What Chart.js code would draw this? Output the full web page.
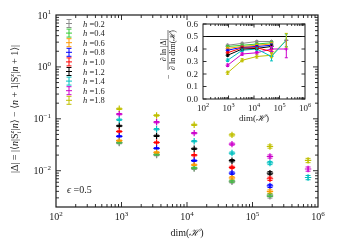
<!DOCTYPE html>
<html>
<head>
<meta charset="utf-8">
<script src="https://cdn.jsdelivr.net/npm/chart.js@4.4.0/dist/chart.umd.min.js"></script>
<style>
body { margin: 0; background: #fff; }
#wrap { position: relative; width: 338px; height: 250px; }
canvas { position: absolute; left: 0; top: 0; }
</style>
</head>
<body>
<div id="wrap">
  <canvas id="main" width="338" height="250"></canvas>
  <canvas id="inset" width="338" height="250"></canvas>
</div>
<script>
// Hilbert space dimensions (x values)
var dims = [924, 3432, 12870, 48620, 184756, 705432];
var hValues = ['0.2', '0.4', '0.6', '0.8', '1.0', '1.2', '1.4', '1.6', '1.8'];
var colors = ['#8c8c8c', '#33cc33', '#ff9900', '#0000ff', '#ff0000', '#000000', '#00c0c0', '#cc00cc', '#c0c000'];

// main panel: |Delta| per h
var delta02 = [0.034, 0.0200, 0.0110, 0.0061, 0.0032];
var delta04 = [0.035, 0.0206, 0.0113, 0.0063, 0.0034];
var delta06 = [0.038, 0.0225, 0.0130, 0.0073, 0.0040];
var delta08 = [0.046, 0.027, 0.0156, 0.0090, 0.0051];
var delta10 = [0.057, 0.035, 0.0199, 0.0116, 0.0070];
var delta12 = [0.073, 0.047, 0.0265, 0.0156, 0.0090];
var delta14 = [0.096, 0.063, 0.037, 0.0219, 0.0141, 0.0074];
var delta16 = [0.123, 0.086, 0.053, 0.0326, 0.0188, 0.0108];
var delta18 = [0.156, 0.116, 0.0767, 0.049, 0.0293, 0.0158];

var deltaErr02 = [0.0010, 0.0006, 0.0004, 0.0003, 0.00023];
var deltaErr04 = [0.0010, 0.0006, 0.0004, 0.0003, 0.00024];
var deltaErr06 = [0.0011, 0.0007, 0.0004, 0.0004, 0.00028];
var deltaErr08 = [0.0014, 0.0008, 0.0005, 0.0005, 0.00036];
var deltaErr10 = [0.0017, 0.0010, 0.0006, 0.0006, 0.0005];
var deltaErr12 = [0.0022, 0.0014, 0.0008, 0.0008, 0.0006];
var deltaErr14 = [0.0029, 0.0019, 0.0011, 0.0011, 0.0010, 0.0007];
var deltaErr16 = [0.0037, 0.0026, 0.0016, 0.0016, 0.0013, 0.0010];
var deltaErr18 = [0.0047, 0.0035, 0.0023, 0.0025, 0.0021, 0.0015];

// inset: -dln|Delta| / dln dim(H)
var slope02 = [0.43, 0.445, 0.46, 0.46];
var slope04 = [0.42, 0.43, 0.44, 0.45];
var slope06 = [0.405, 0.42, 0.43, 0.44];
var slope08 = [0.39, 0.415, 0.42, 0.43];
var slope10 = [0.37, 0.41, 0.41, 0.38];
var slope12 = [0.35, 0.40, 0.405, 0.42];
var slope14 = [0.31, 0.39, 0.40, 0.34, 0.47];
var slope16 = [0.27, 0.36, 0.37, 0.40, 0.40];
var slope18 = [0.21, 0.31, 0.34, 0.35, 0.47];

var slopeErr02 = [0.008, 0.008, 0.008, 0.008];
var slopeErr04 = [0.008, 0.008, 0.008, 0.008];
var slopeErr06 = [0.008, 0.008, 0.008, 0.010];
var slopeErr08 = [0.008, 0.008, 0.008, 0.010];
var slopeErr10 = [0.008, 0.008, 0.008, 0.012];
var slopeErr12 = [0.008, 0.008, 0.008, 0.012];
var slopeErr14 = [0.010, 0.010, 0.010, 0.035, 0.05];
var slopeErr16 = [0.010, 0.010, 0.010, 0.020, 0.07];
var slopeErr18 = [0.012, 0.012, 0.012, 0.020, 0.055];

var refLineX = [100, 1000000];
var refLineY = [0.5, 0.5];

var mainXExp = [2, 3, 4, 5, 6];
var mainYExp = [-2, -1, 0, 1];
var insetXExp = [2, 3, 4, 5, 6];
var insetYTicks = [0, 0.1, 0.2, 0.3, 0.4, 0.5, 0.6];

var deltas = [delta02, delta04, delta06, delta08, delta10, delta12, delta14, delta16, delta18];
var deltaErrs = [deltaErr02, deltaErr04, deltaErr06, deltaErr08, deltaErr10, deltaErr12, deltaErr14, deltaErr16, deltaErr18];
var slopes = [slope02, slope04, slope06, slope08, slope10, slope12, slope14, slope16, slope18];
var slopeErrs = [slopeErr02, slopeErr04, slopeErr06, slopeErr08, slopeErr10, slopeErr12, slopeErr14, slopeErr16, slopeErr18];

var SERIF = '"Liberation Serif", "DejaVu Serif", serif';
var INK = '#1a1a1a';

function pts(arr) {
    return arr.map(function (v, j) { return { x: dims[j], y: v }; });
}

// 10^n label with small raised exponent
function pow10(ctx, exp, x, y, align, size) {
    var e = String(exp).replace('-', '\u2212');
    ctx.font = size + 'px ' + SERIF;
    var wb = ctx.measureText('10').width;
    ctx.font = (size * 0.7) + 'px ' + SERIF;
    var we = ctx.measureText(e).width;
    var w = wb + we;
    var x0 = align === 'right' ? x - w : (align === 'center' ? x - w / 2 : x);
    ctx.textAlign = 'left';
    ctx.textBaseline = 'alphabetic';
    ctx.font = size + 'px ' + SERIF;
    ctx.fillText('10', x0, y);
    ctx.font = (size * 0.7) + 'px ' + SERIF;
    ctx.fillText(e, x0 + wb, y - size * 0.42);
}

// rich text: parts {t, it, sub, sup}
function richWidth(ctx, parts, size) {
    var w = 0;
    parts.forEach(function (p) {
        if (p.sub || p.sup) {
            ctx.font = 'italic ' + (size * 0.7) + 'px ' + SERIF;
            w += Math.max(ctx.measureText(p.sub || '').width, ctx.measureText(p.sup || '').width) + 0.5;
        } else {
            ctx.font = (p.it ? 'italic ' : '') + size + 'px ' + SERIF;
            w += ctx.measureText(p.t).width;
        }
    });
    return w;
}
function drawRich(ctx, parts, x, y, size) {
    var cx = x;
    ctx.textAlign = 'left';
    ctx.textBaseline = 'alphabetic';
    parts.forEach(function (p) {
        if (p.sub || p.sup) {
            ctx.font = 'italic ' + (size * 0.7) + 'px ' + SERIF;
            var w = Math.max(ctx.measureText(p.sub || '').width, ctx.measureText(p.sup || '').width);
            if (p.sub) ctx.fillText(p.sub, cx, y + size * 0.28);
            if (p.sup) ctx.fillText(p.sup, cx, y - size * 0.42);
            cx += w + 0.5;
        } else {
            ctx.font = (p.it ? 'italic ' : '') + size + 'px ' + SERIF;
            ctx.fillText(p.t, cx, y);
            cx += ctx.measureText(p.t).width;
        }
    });
}

// log minor values in the scale range
function logTicks(min, max) {
    var out = [];
    for (var e = Math.floor(Math.log10(min)); e <= Math.ceil(Math.log10(max)); e++) {
        for (var m = 1; m <= 9; m++) {
            var v = m * Math.pow(10, e);
            if (v > min * 1.0001 && v < max * 0.9999) out.push({ v: v, major: m === 1 });
        }
    }
    return out;
}

var errorBars = {
    id: 'errorBars',
    afterDatasetsDraw: function (chart, args, opts) {
        var ctx = chart.ctx, ys = chart.scales.y, cap = opts.cap || 2.5;
        ctx.save();
        ctx.beginPath();
        ctx.rect(chart.chartArea.left, chart.chartArea.top, chart.chartArea.width, chart.chartArea.height);
        ctx.clip();
        chart.data.datasets.forEach(function (ds, i) {
            if (!ds.errors) return;
            var meta = chart.getDatasetMeta(i);
            ctx.strokeStyle = ds.borderColor;
            ctx.lineWidth = 1;
            meta.data.forEach(function (pt, j) {
                var v = ds.data[j].y, e = ds.errors[j];
                var y1 = ys.getPixelForValue(v - e), y2 = ys.getPixelForValue(v + e);
                ctx.beginPath();
                ctx.moveTo(pt.x, y1); ctx.lineTo(pt.x, y2);
                ctx.moveTo(pt.x - cap, y1); ctx.lineTo(pt.x + cap, y1);
                ctx.moveTo(pt.x - cap, y2); ctx.lineTo(pt.x + cap, y2);
                ctx.stroke();
            });
        });
        ctx.restore();
    }
};

// box with inward ticks on all four sides
var frame = {
    id: 'frame',
    afterDraw: function (chart, args, o) {
        var ctx = chart.ctx, a = chart.chartArea, xs = chart.scales.x, ys = chart.scales.y;
        ctx.save();
        ctx.strokeStyle = INK;
        ctx.lineWidth = o.lw;
        ctx.strokeRect(a.left, a.top, a.right - a.left, a.bottom - a.top);
        ctx.lineWidth = 0.9;
        ctx.beginPath();
        logTicks(xs.min, xs.max).forEach(function (t) {
            var px = xs.getPixelForValue(t.v), L = t.major ? o.major : o.minor;
            ctx.moveTo(px, a.bottom); ctx.lineTo(px, a.bottom - L);
            ctx.moveTo(px, a.top); ctx.lineTo(px, a.top + L);
        });
        var yt = o.yLog ? logTicks(ys.min, ys.max) : o.yTicks.map(function (v) { return { v: v, major: true }; });
        yt.forEach(function (t) {
            var py = ys.getPixelForValue(t.v), L = t.major ? o.major : o.minor;
            ctx.moveTo(a.left, py); ctx.lineTo(a.left + L, py);
            ctx.moveTo(a.right, py); ctx.lineTo(a.right - L, py);
        });
        ctx.stroke();
        ctx.restore();
    }
};

var mainLabels = {
    id: 'mainLabels',
    afterDraw: function (chart) {
        var ctx = chart.ctx, a = chart.chartArea, xs = chart.scales.x, ys = chart.scales.y;
        ctx.save();
        ctx.fillStyle = INK;
        mainXExp.forEach(function (e) { pow10(ctx, e, xs.getPixelForValue(Math.pow(10, e)), a.bottom + 13, 'center', 10); });
        mainYExp.forEach(function (e) { pow10(ctx, e, a.left - 5, ys.getPixelForValue(Math.pow(10, e)) + 3.5, 'right', 10); });

        // x title
        var xt = [{ t: 'dim(' }, { t: '\u210B', it: true }, { t: ')' }];
        drawRich(ctx, xt, (a.left + a.right) / 2 - richWidth(ctx, xt, 10) / 2, 236, 10);

        // y title
        var yt = [
            { t: '|\u0394| = |\u27E8' }, { t: 'n', it: true }, { t: '|S' }, { sub: 'i', sup: 'z' }, { t: '|' }, { t: 'n', it: true },
            { t: '\u27E9 \u2212 \u27E8' }, { t: 'n', it: true }, { t: ' + 1|S' }, { sub: 'i', sup: 'z' }, { t: '|' }, { t: 'n', it: true }, { t: ' + 1\u27E9|' }
        ];
        ctx.save();
        ctx.translate(18, (a.top + a.bottom) / 2 - 2);
        ctx.rotate(-Math.PI / 2);
        drawRich(ctx, yt, -richWidth(ctx, yt, 10) / 2, 0, 10);
        ctx.restore();

        // legend
        chart.data.datasets.forEach(function (ds, i) {
            var ly = a.top + 8.5 + i * 9.6, lx = a.left + 13;
            ctx.strokeStyle = ds.borderColor;
            ctx.lineWidth = 1;
            ctx.beginPath();
            ctx.moveTo(lx, ly - 4); ctx.lineTo(lx, ly + 4);
            ctx.moveTo(lx - 2.5, ly - 4); ctx.lineTo(lx + 2.5, ly - 4);
            ctx.moveTo(lx - 2.5, ly + 4); ctx.lineTo(lx + 2.5, ly + 4);
            ctx.moveTo(lx - 3, ly); ctx.lineTo(lx + 3, ly);
            ctx.stroke();
            ctx.fillStyle = INK;
            drawRich(ctx, [{ t: 'h', it: true }, { t: ' =' + hValues[i] }], lx + 14, ly + 3, 8.5);
        });

        drawRich(ctx, [{ t: '\u03F5', it: true }, { t: ' =0.5' }], a.left + 11, a.bottom - 14, 10);
        ctx.restore();
    }
};

var insetLabels = {
    id: 'insetLabels',
    afterDraw: function (chart) {
        var ctx = chart.ctx, a = chart.chartArea, xs = chart.scales.x, ys = chart.scales.y;
        ctx.save();
        ctx.fillStyle = INK;
        insetXExp.forEach(function (e) { pow10(ctx, e, xs.getPixelForValue(Math.pow(10, e)), a.bottom + 12, 'center', 9); });
        ctx.font = '9px ' + SERIF;
        ctx.textAlign = 'right';
        ctx.textBaseline = 'middle';
        insetYTicks.forEach(function (v) { ctx.fillText(v.toFixed(1), a.left - 5, ys.getPixelForValue(v) + 0.5); });

        var xt = [{ t: 'dim(' }, { t: '\u210B', it: true }, { t: ')' }];
        drawRich(ctx, xt, (a.left + a.right) / 2 - richWidth(ctx, xt, 9) / 2, a.bottom + 22, 9);

        // rotated fraction title
        var num = [{ t: '\u2202 ln |\u0394|' }];
        var den = [{ t: '\u2202 ln dim(' }, { t: '\u210B', it: true }, { t: ')' }];
        ctx.save();
        ctx.translate(168, 50);
        ctx.rotate(-Math.PI / 2);
        var wn = richWidth(ctx, num, 8), wd = richWidth(ctx, den, 8), wf = Math.max(wn, wd);
        drawRich(ctx, num, -wn / 2, -2.5, 8);
        drawRich(ctx, den, -wd / 2, 7, 8);
        ctx.strokeStyle = INK;
        ctx.lineWidth = 0.6;
        ctx.beginPath();
        ctx.moveTo(-wf / 2, 0); ctx.lineTo(wf / 2, 0);
        ctx.stroke();
        drawRich(ctx, [{ t: '\u2212' }], -wf / 2 - 9, 3, 8);
        ctx.restore();
        ctx.restore();
    }
};

var mainSets = deltas.map(function (arr, i) {
    return {
        label: 'h =' + hValues[i],
        data: pts(arr),
        errors: deltaErrs[i],
        borderColor: colors[i],
        backgroundColor: colors[i],
        showLine: false,
        pointStyle: 'cross',
        pointRadius: 3.2,
        pointBorderWidth: 1.2
    };
});

new Chart(document.getElementById('main'), {
    type: 'line',
    data: { datasets: mainSets },
    options: {
        responsive: false,
        animation: false,
        layout: { padding: { left: 0, top: 15, right: 20, bottom: 0 } },
        plugins: {
            legend: { display: false },
            tooltip: { enabled: false },
            errorBars: { cap: 2.5 },
            frame: { lw: 1.2, major: 5, minor: 3, yLog: true }
        },
        scales: {
            x: {
                type: 'logarithmic', min: 100, max: 1000000,
                ticks: { display: false }, grid: { display: false }, border: { display: false },
                afterFit: function (s) { s.height = 43; }
            },
            y: {
                type: 'logarithmic', min: 0.002, max: 10,
                ticks: { display: false }, grid: { display: false }, border: { display: false },
                afterFit: function (s) { s.width = 56; }
            }
        }
    },
    plugins: [errorBars, frame, mainLabels]
});

var insetSets = slopes.map(function (arr, i) {
    return {
        label: 'h =' + hValues[i],
        data: pts(arr),
        errors: slopeErrs[i],
        borderColor: colors[i],
        backgroundColor: colors[i],
        borderWidth: 1,
        pointStyle: 'cross',
        pointRadius: 2,
        pointBorderWidth: 1
    };
});
insetSets.unshift({
    data: refLineX.map(function (x, j) { return { x: x, y: refLineY[j] }; }),
    borderColor: '#000',
    borderWidth: 1,
    pointRadius: 0
});

new Chart(document.getElementById('inset'), {
    type: 'line',
    data: { datasets: insetSets },
    options: {
        responsive: false,
        animation: false,
        layout: { padding: { left: 150, top: 24, right: 33, bottom: 121 } },
        plugins: {
            legend: { display: false },
            tooltip: { enabled: false },
            errorBars: { cap: 1.5 },
            frame: { lw: 1, major: 3.5, minor: 2, yLog: false, yTicks: insetYTicks }
        },
        scales: {
            x: {
                type: 'logarithmic', min: 100, max: 1000000,
                ticks: { display: false }, grid: { display: false }, border: { display: false },
                afterFit: function (s) { s.height = 30; }
            },
            y: {
                type: 'linear', min: 0, max: 0.6,
                ticks: { display: false }, grid: { display: false }, border: { display: false },
                afterFit: function (s) { s.width = 53; }
            }
        }
    },
    plugins: [errorBars, frame, insetLabels]
});
</script>
</body>
</html>
